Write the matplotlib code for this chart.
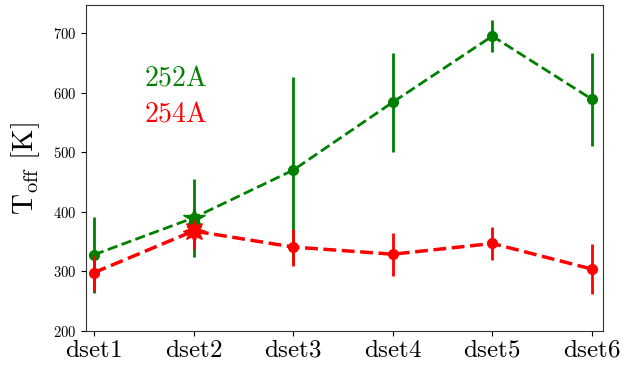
import matplotlib
matplotlib.use("Agg")
import matplotlib.pyplot as plt
import numpy as np

plt.rcParams['mathtext.fontset'] = 'cm'
plt.rcParams['font.family'] = 'DejaVu Serif'

categories = ['dset1', 'dset2', 'dset3', 'dset4', 'dset5', 'dset6']
g252 = [328, 390, 470, 584, 695, 589]
g252_err = [64, 66, 157, 83, 27, 78]
r254 = [298, 368, 341, 329, 347, 304]
r254_err = [30, 30, 31, 36, 27, 42]
star_idx = 1

x = np.arange(len(categories))

fig, ax = plt.subplots(figsize=(6.32, 3.65), dpi=100)
fig.subplots_adjust(left=0.136, right=0.954, top=0.986, bottom=0.093)

ax.errorbar(x, g252, yerr=g252_err, color='green', ls='--', lw=2, elinewidth=2,
            marker='o', ms=7, capsize=0, zorder=2)
ax.errorbar(x, r254, yerr=r254_err, color='red', ls='--', lw=2.5, elinewidth=2,
            marker='o', ms=7, capsize=0, zorder=3)
ax.plot(x[star_idx], g252[star_idx], marker='*', color='green', ms=16, ls='none', zorder=4)
ax.plot(x[star_idx], r254[star_idx], marker=(8, 1, 0), color='red', ms=16, ls='none', zorder=5)

ax.set_xlim(-0.08, 5.11)
ax.set_ylim(200, 747)
ax.set_xticks(x)
ax.set_xticklabels([r'$\mathrm{%s}$' % c for c in categories], fontsize=18)
ax.tick_params(axis='x', pad=2)
ax.set_yticks([200, 300, 400, 500, 600, 700])
ax.set_yticklabels([r'$\mathrm{%d}$' % v for v in [200, 300, 400, 500, 600, 700]], fontsize=10.5)
ax.set_ylabel(r'$\mathrm{T_{off}\ [K]}$', fontsize=21, labelpad=8)

ax.text(0.5, 624, r'$\mathrm{252A}$', color='green', fontsize=20, va='center')
ax.text(0.5, 564, r'$\mathrm{254A}$', color='red', fontsize=20, va='center')

for s in ax.spines.values():
    s.set_color('#333333')

fig.savefig('out.png', dpi=100)
